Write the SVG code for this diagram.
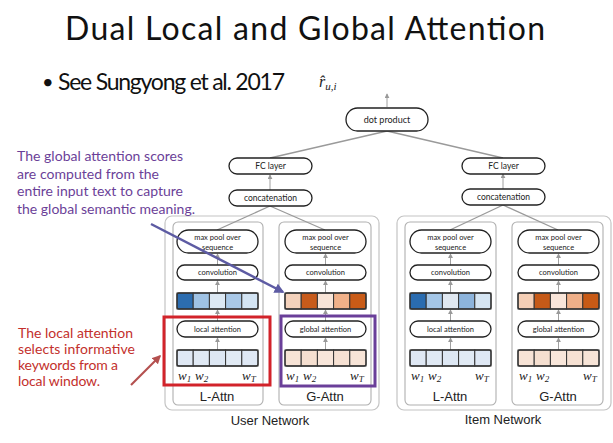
<svg xmlns="http://www.w3.org/2000/svg" width="613" height="443" viewBox="0 0 613 443">
<defs>
<marker id="ah" viewBox="0 0 6 6" refX="5" refY="3" markerWidth="5" markerHeight="5" orient="auto"><path d="M0,0 L6,3 L0,6 z" fill="#999"/></marker>
<marker id="ahp" viewBox="0 0 6 6" refX="5" refY="3" markerWidth="4" markerHeight="4" orient="auto"><path d="M0,0 L6,3 L0,6 z" fill="#5d5ba3"/></marker>
<marker id="ahr" viewBox="0 0 6 6" refX="5" refY="3" markerWidth="4" markerHeight="4" orient="auto"><path d="M0,0 L6,3 L0,6 z" fill="#b4504f"/></marker>
</defs>
<style>
.pill{fill:#fff;stroke:#222;stroke-width:1.3}
.nt{font-family:Lato,"Open Sans",sans-serif;fill:#222;text-anchor:middle}
.outer{fill:#fff;stroke:#c4c4c4;stroke-width:1.2}
.inner{fill:#fff;stroke:#b0b0b0;stroke-width:1.1}
.cell{stroke:#333;stroke-width:1}
.row{fill:none;stroke:#333;stroke-width:1.3}
.con{stroke:#9a9a9a;stroke-width:1.3;fill:none}
.va{stroke:#a0a0a0;stroke-width:1;fill:none;marker-end:url(#ah)}
.w{font-family:"Liberation Serif",serif;font-style:italic;font-size:13px;fill:#222}
.ws{font-size:9px}
.lab{font-family:"Liberation Sans",Arial,sans-serif;font-size:13px;fill:#222;text-anchor:middle}
.pt{font-family:Lato,"Open Sans",sans-serif;font-size:14px;fill:#6b3f98}
.rt{font-family:Lato,"Open Sans",sans-serif;font-size:14px;fill:#c3302c}
.hd{font-family:Lato,"Open Sans",sans-serif;fill:#111}
</style>
<rect width="613" height="443" fill="#fff"/>
<text class="hd" x="65" y="40" font-size="32" textLength="480">Dual Local and Global Attention</text>
<text class="hd" x="42" y="89" font-size="20">•</text>
<text class="hd" x="58" y="90" font-size="23" textLength="227">See Sungyong et al. 2017</text>
<text x="319" y="87" font-family="Liberation Serif, serif" font-style="italic" font-size="16" fill="#222">r̂<tspan font-size="11" dy="3">u,i</tspan></text>

<g id="outer-boxes">
<rect class="outer" x="165" y="216" width="214" height="194" rx="7"/>
<rect class="outer" x="397" y="216" width="214" height="194" rx="7"/>
<rect class="inner" x="173" y="222" width="90" height="183" rx="5"/>
<rect class="inner" x="279" y="222" width="92" height="183" rx="5"/>
<rect class="inner" x="405" y="222" width="91" height="183" rx="5"/>
<rect class="inner" x="512" y="222" width="91" height="183" rx="5"/>
<text class="lab" x="270" y="425">User Network</text>
<text class="lab" x="503" y="424">Item Network</text>
<text class="lab" x="217" y="401">L-Attn</text>
<text class="lab" x="325" y="401">G-Attn</text>
<text class="lab" x="450" y="401">L-Attn</text>
<text class="lab" x="558" y="401">G-Attn</text>
</g>

<g id="connectors">
<line class="va" x1="387" y1="107" x2="387" y2="94"/>
<line class="con" x1="387" y1="131" x2="270" y2="158"/>
<line class="con" x1="387" y1="131" x2="503" y2="158"/>
<line class="va" x1="270" y1="190" x2="270" y2="175"/>
<line class="va" x1="503" y1="189" x2="503" y2="174"/>
<line class="con" x1="270" y1="206" x2="217" y2="230"/>
<line class="con" x1="270" y1="206" x2="325" y2="230"/>
<line class="con" x1="503" y1="205" x2="450" y2="230"/>
<line class="con" x1="503" y1="205" x2="558" y2="230"/>
<g id="col-arrows">
<line class="va" x1="217.5" y1="350" x2="217.5" y2="338"/><line class="va" x1="217.5" y1="321" x2="217.5" y2="310"/><line class="va" x1="217.5" y1="293" x2="217.5" y2="281"/><line class="va" x1="217.5" y1="265" x2="217.5" y2="254"/>
<line class="va" x1="325.5" y1="350" x2="325.5" y2="338"/><line class="va" x1="325.5" y1="321" x2="325.5" y2="310"/><line class="va" x1="325.5" y1="293" x2="325.5" y2="281"/><line class="va" x1="325.5" y1="265" x2="325.5" y2="254"/>
<line class="va" x1="450.5" y1="350" x2="450.5" y2="338"/><line class="va" x1="450.5" y1="321" x2="450.5" y2="310"/><line class="va" x1="450.5" y1="293" x2="450.5" y2="281"/><line class="va" x1="450.5" y1="265" x2="450.5" y2="254"/>
<line class="va" x1="558.5" y1="350" x2="558.5" y2="338"/><line class="va" x1="558.5" y1="321" x2="558.5" y2="310"/><line class="va" x1="558.5" y1="293" x2="558.5" y2="281"/><line class="va" x1="558.5" y1="265" x2="558.5" y2="254"/>
</g>
</g>

<g id="dot-product"><rect class="pill" x="346" y="108" width="82" height="23" rx="11.5"/><text class="nt" x="387" y="123" font-size="9">dot product</text></g>
<g id="fc-user"><rect class="pill" x="229" y="158" width="83" height="16" rx="8"/><text class="nt" x="270.5" y="169" font-size="8.5">FC layer</text></g>
<g id="concat-user"><rect class="pill" x="229" y="190" width="83" height="16" rx="8"/><text class="nt" x="270.5" y="201" font-size="8.5">concatenation</text></g>
<g id="fc-item"><rect class="pill" x="462" y="158" width="83" height="16" rx="8"/><text class="nt" x="503.5" y="169" font-size="8.5">FC layer</text></g>
<g id="concat-item"><rect class="pill" x="462" y="189" width="83" height="16" rx="8"/><text class="nt" x="503.5" y="200" font-size="8.5">concatenation</text></g>

<g id="user-l">
<rect class="pill" x="177" y="230" width="81" height="23" rx="11.5"/><text class="nt" x="217.5" y="240" font-size="7.5">max pool over</text><text class="nt" x="217.5" y="249.5" font-size="7.5">sequence</text>
<rect class="pill" x="177" y="265" width="81" height="15" rx="7.5"/><text class="nt" x="217.5" y="275" font-size="7.5">convolution</text>
<rect class="cell" x="177" y="293" width="16.2" height="16" fill="#2c6db0"/><rect class="cell" x="193.2" y="293" width="16.2" height="16" fill="#9fc2e4"/><rect class="cell" x="209.4" y="293" width="16.2" height="16" fill="#dce8f3"/><rect class="cell" x="225.6" y="293" width="16.2" height="16" fill="#a9c8e7"/><rect class="cell" x="241.8" y="293" width="16.2" height="16" fill="#d3e4f3"/><rect class="row" x="177" y="293" width="81" height="16" rx="2"/>
<rect class="pill" x="177" y="321" width="81" height="16" rx="8"/><text class="nt" x="217.5" y="331.5" font-size="7.5">local attention</text>
<rect class="cell" x="177" y="350" width="16.2" height="16" fill="#dfe8f4"/><rect class="cell" x="193.2" y="350" width="16.2" height="16" fill="#e0e9f4"/><rect class="cell" x="209.4" y="350" width="16.2" height="16" fill="#dde7f3"/><rect class="cell" x="225.6" y="350" width="16.2" height="16" fill="#e1eaf4"/><rect class="cell" x="241.8" y="350" width="16.2" height="16" fill="#dfe8f4"/><rect class="row" x="177" y="350" width="81" height="16" rx="2"/>
<text class="w" x="178" y="380">w<tspan class="ws" dy="2">1</tspan></text><text class="w" x="195" y="380">w<tspan class="ws" dy="2">2</tspan></text><text class="w" x="242" y="380">w<tspan class="ws" dy="2">T</tspan></text>
</g>

<g id="user-g">
<rect class="pill" x="285" y="230" width="81" height="23" rx="11.5"/><text class="nt" x="325.5" y="240" font-size="7.5">max pool over</text><text class="nt" x="325.5" y="249.5" font-size="7.5">sequence</text>
<rect class="pill" x="285" y="265" width="81" height="15" rx="7.5"/><text class="nt" x="325.5" y="275" font-size="7.5">convolution</text>
<rect class="cell" x="285" y="293" width="16.2" height="16" fill="#f4d2bc"/><rect class="cell" x="301.2" y="293" width="16.2" height="16" fill="#c75b1b"/><rect class="cell" x="317.4" y="293" width="16.2" height="16" fill="#f8e4d7"/><rect class="cell" x="333.6" y="293" width="16.2" height="16" fill="#f1b189"/><rect class="cell" x="349.8" y="293" width="16.2" height="16" fill="#c95b17"/><rect class="row" x="285" y="293" width="81" height="16" rx="2"/>
<rect class="pill" x="285" y="321" width="81" height="16" rx="8"/><text class="nt" x="325.5" y="331.5" font-size="7.5">global attention</text>
<rect class="cell" x="285" y="350" width="16.2" height="16" fill="#f7e3d6"/><rect class="cell" x="301.2" y="350" width="16.2" height="16" fill="#f5dfd0"/><rect class="cell" x="317.4" y="350" width="16.2" height="16" fill="#f8e6da"/><rect class="cell" x="333.6" y="350" width="16.2" height="16" fill="#f6e1d3"/><rect class="cell" x="349.8" y="350" width="16.2" height="16" fill="#f7e4d7"/><rect class="row" x="285" y="350" width="81" height="16" rx="2"/>
<text class="w" x="286" y="380">w<tspan class="ws" dy="2">1</tspan></text><text class="w" x="303" y="380">w<tspan class="ws" dy="2">2</tspan></text><text class="w" x="350" y="380">w<tspan class="ws" dy="2">T</tspan></text>
</g>

<g id="item-l">
<rect class="pill" x="410" y="230" width="81" height="23" rx="11.5"/><text class="nt" x="450.5" y="240" font-size="7.5">max pool over</text><text class="nt" x="450.5" y="249.5" font-size="7.5">sequence</text>
<rect class="pill" x="410" y="265" width="81" height="15" rx="7.5"/><text class="nt" x="450.5" y="275" font-size="7.5">convolution</text>
<rect class="cell" x="410" y="293" width="16.2" height="16" fill="#2a6cb0"/><rect class="cell" x="426.2" y="293" width="16.2" height="16" fill="#a4c6e7"/><rect class="cell" x="442.4" y="293" width="16.2" height="16" fill="#e0e8f1"/><rect class="cell" x="458.6" y="293" width="16.2" height="16" fill="#8db4dc"/><rect class="cell" x="474.8" y="293" width="16.2" height="16" fill="#d5e5f3"/><rect class="row" x="410" y="293" width="81" height="16" rx="2"/>
<rect class="pill" x="410" y="321" width="81" height="16" rx="8"/><text class="nt" x="450.5" y="331.5" font-size="7.5">local attention</text>
<rect class="cell" x="410" y="350" width="16.2" height="16" fill="#dfe8f4"/><rect class="cell" x="426.2" y="350" width="16.2" height="16" fill="#e0e9f4"/><rect class="cell" x="442.4" y="350" width="16.2" height="16" fill="#dde7f3"/><rect class="cell" x="458.6" y="350" width="16.2" height="16" fill="#e1eaf4"/><rect class="cell" x="474.8" y="350" width="16.2" height="16" fill="#dfe8f4"/><rect class="row" x="410" y="350" width="81" height="16" rx="2"/>
<text class="w" x="411" y="380">w<tspan class="ws" dy="2">1</tspan></text><text class="w" x="428" y="380">w<tspan class="ws" dy="2">2</tspan></text><text class="w" x="475" y="380">w<tspan class="ws" dy="2">T</tspan></text>
</g>

<g id="item-g">
<rect class="pill" x="518" y="230" width="81" height="23" rx="11.5"/><text class="nt" x="558.5" y="240" font-size="7.5">max pool over</text><text class="nt" x="558.5" y="249.5" font-size="7.5">sequence</text>
<rect class="pill" x="518" y="265" width="81" height="15" rx="7.5"/><text class="nt" x="558.5" y="275" font-size="7.5">convolution</text>
<rect class="cell" x="518" y="293" width="16.2" height="16" fill="#f5cfb6"/><rect class="cell" x="534.2" y="293" width="16.2" height="16" fill="#c65a18"/><rect class="cell" x="550.4" y="293" width="16.2" height="16" fill="#f9e5d9"/><rect class="cell" x="566.6" y="293" width="16.2" height="16" fill="#f0b089"/><rect class="cell" x="582.8" y="293" width="16.2" height="16" fill="#c85a16"/><rect class="row" x="518" y="293" width="81" height="16" rx="2"/>
<rect class="pill" x="518" y="321" width="81" height="16" rx="8"/><text class="nt" x="558.5" y="331.5" font-size="7.5">global attention</text>
<rect class="cell" x="518" y="350" width="16.2" height="16" fill="#f7e3d6"/><rect class="cell" x="534.2" y="350" width="16.2" height="16" fill="#f5dfd0"/><rect class="cell" x="550.4" y="350" width="16.2" height="16" fill="#f8e6da"/><rect class="cell" x="566.6" y="350" width="16.2" height="16" fill="#f6e1d3"/><rect class="cell" x="582.8" y="350" width="16.2" height="16" fill="#f7e4d7"/><rect class="row" x="518" y="350" width="81" height="16" rx="2"/>
<text class="w" x="519" y="380">w<tspan class="ws" dy="2">1</tspan></text><text class="w" x="536" y="380">w<tspan class="ws" dy="2">2</tspan></text><text class="w" x="583" y="380">w<tspan class="ws" dy="2">T</tspan></text>
</g>

<g id="highlight-boxes">
<rect x="164" y="317" width="106" height="68" fill="none" stroke="#d2232a" stroke-width="3"/>
<rect x="281" y="316" width="94" height="70" fill="none" stroke="#6a3f99" stroke-width="3"/>
</g>

<g id="annotations">
<text class="pt" x="17" y="161" textLength="166">The global attention scores</text>
<text class="pt" x="17" y="179" textLength="142">are computed from the</text>
<text class="pt" x="17" y="196" textLength="166">entire input text to capture</text>
<text class="pt" x="17" y="214" textLength="178">the global semantic meaning.</text>
<line x1="151" y1="224" x2="283" y2="292" stroke="#5d5ba3" stroke-width="2.5" marker-end="url(#ahp)"/>
<text class="rt" x="18" y="338" textLength="115">The local attention</text>
<text class="rt" x="18" y="354" textLength="117">selects informative</text>
<text class="rt" x="18" y="370" textLength="100">keywords from a</text>
<text class="rt" x="18" y="386" textLength="82">local window.</text>
<line x1="131" y1="385" x2="160" y2="356" stroke="#b4504f" stroke-width="2.2" marker-end="url(#ahr)"/>
</g>
</svg>
